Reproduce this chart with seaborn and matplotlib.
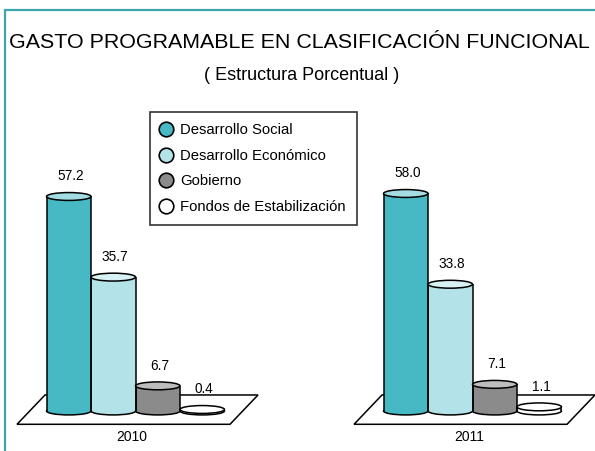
import matplotlib
matplotlib.use("Agg")
import matplotlib.pyplot as plt
import seaborn as sns
import pandas as pd
from matplotlib.patches import Ellipse, Polygon, Rectangle
from matplotlib.lines import Line2D

# ---------------- data ----------------
years = ["2010", "2011"]
categories = ["Desarrollo Social", "Desarrollo Económico", "Gobierno", "Fondos de Estabilización"]
values_2010 = [57.2, 35.7, 6.7, 0.4]
values_2011 = [58.0, 33.8, 7.1, 1.1]
title = "GASTO PROGRAMABLE EN CLASIFICACIÓN FUNCIONAL"
subtitle = "( Estructura Porcentual )"

# ---------------- style ----------------
body_colors = ["#47B9C5", "#B3E3E8", "#8B8B8B", "#FFFFFF"]
top_colors = ["#A3DCE2", "#D8F1F4", "#BDBDBD", "#FFFFFF"]
frame_color = "#3EA5AC"
EDGE_LW = 1.1
ELL_H = 2.1  # ellipse height in data units

sns.set_style("white")
plt.rcParams["font.family"] = ["Liberation Sans", "DejaVu Sans"]
plt.rcParams["text.color"] = "black"

rows = []
for y, vals in zip(years, [values_2010, values_2011]):
    for c, v in zip(categories, vals):
        rows.append({"year": y, "category": c, "value": v})
df = pd.DataFrame(rows)

fig = plt.figure(figsize=(5.95, 4.51), dpi=100)
ax = fig.add_axes([0, 0, 1, 1])

sns.barplot(data=df, x="year", y="value", hue="category", order=years,
            hue_order=categories, palette=body_colors, saturation=1,
            width=0.528, linewidth=0, legend=False, ax=ax)

# floor parallelograms behind each group
for gi, _ in enumerate(years):
    pts = [(gi - 0.2686, 4.27), (gi + 0.3635, 4.27),
           (gi + 0.2804, -3.55), (gi - 0.3516, -3.55)]
    ax.add_patch(Polygon(pts, closed=True, facecolor="white", edgecolor="black",
                         linewidth=EDGE_LW, zorder=0.5))
    ax.text(gi - 0.01, -6.9, years[gi], ha="center", va="center", fontsize=10,
            color="black")

# turn bars into cylinders
for ci, cont in enumerate(ax.containers):
    for rect in cont.patches:
        x = rect.get_x()
        w = rect.get_width()
        h = rect.get_height()
        cx = x + w / 2
        rect.set_edgecolor("none")
        rect.set_zorder(2)
        ax.add_patch(Ellipse((cx, 0), w, ELL_H, facecolor=body_colors[ci],
                             edgecolor="black", linewidth=EDGE_LW, zorder=1.5))
        ax.plot([x, x], [0, h], color="black", linewidth=EDGE_LW, zorder=3,
                solid_capstyle="butt")
        ax.plot([x + w, x + w], [0, h], color="black", linewidth=EDGE_LW, zorder=3,
                solid_capstyle="butt")
        ax.add_patch(Ellipse((cx, h), w, ELL_H, facecolor=top_colors[ci],
                             edgecolor="black", linewidth=EDGE_LW, zorder=4))
        ax.text(cx + 0.006, h + 5.4, f"{h:.1f}", ha="center", va="center",
                fontsize=9.8, zorder=5, color="black")

ax.set_xlim(-0.4021, 1.3635)
ax.set_ylim(-10.67, 109.6)
ax.axis("off")

# titles
fig.text(0.503, 1 - 42 / 451, title, ha="center", va="center", fontsize=15.4,
         color="black")
fig.text(0.507, 1 - 76 / 451, subtitle, ha="center", va="center", fontsize=13,
         color="black")

# legend
handles = [Line2D([], [], linestyle="none", marker="o", markersize=10.5,
                  markerfacecolor=c, markeredgecolor="black", markeredgewidth=1.2)
           for c in body_colors]
leg = fig.legend(handles, categories, loc="upper left",
                 bbox_to_anchor=(150 / 595, 1 - 112 / 451), frameon=True,
                 fancybox=False, edgecolor="black", fontsize=10.7,
                 handlelength=0.6, handletextpad=0.7, labelspacing=0.78,
                 borderpad=0.75, borderaxespad=0)
leg.get_frame().set_linewidth(1.2)
for t in leg.get_texts():
    t.set_color("black")

# outer teal frame
fig.patches.append(Rectangle((5 / 595, -0.1), 1.2, 1 - 10 / 451 + 0.1,
                             transform=fig.transFigure, fill=False,
                             edgecolor=frame_color, linewidth=1.6))

fig.savefig("out.png", dpi=100)
